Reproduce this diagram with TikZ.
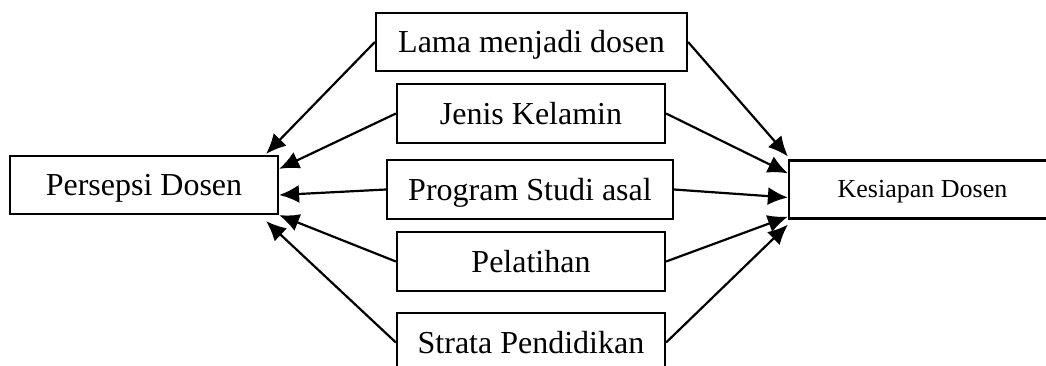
\documentclass[tikz,border=0pt]{standalone}
\usepackage{fontspec}
\setmainfont{Liberation Serif}
\usetikzlibrary{arrows.meta,calc}

\begin{document}
\begin{tikzpicture}[
    x=0.5pt, y=-0.5pt,
    box/.style={draw, line width=1.1pt, minimum height=29.5pt, inner sep=2pt, text height=14pt, text depth=3.5pt, align=center, font=\fontsize{16}{18}\selectfont},
    arr/.style={-{Latex[length=10pt,width=9pt]}, line width=1.1pt}
]
\clip (0,0) rectangle (1046,365);

\node[box, minimum width=134pt, minimum height=29pt] (persepsi) at (144,185) {Persepsi Dosen};
\node[box, minimum width=133.5pt, minimum height=29pt, text height=11pt, text depth=3pt, font=\fontsize{13}{15}\selectfont] (kesiapan) at (922.5,189.5) {Kesiapan Dosen};

\node[box, minimum width=155.5pt, minimum height=29pt] (lama) at (531.5,42) {Lama menjadi dosen};
\node[box, minimum width=134pt] (jenis) at (531,113.5) {Jenis Kelamin};
\node[box, minimum width=143pt] (prodi) at (530,189.5) {Program Studi asal};
\node[box, minimum width=134pt] (pelatihan) at (531,261.5) {Pelatihan};
\node[box, minimum width=134pt] (strata) at (531,342.5) {Strata Pendidikan};

% left side
\draw[arr] (lama.west) -- ($(persepsi.north east)+(-13,-1)$);
\draw[arr] (jenis.west) -- ($(persepsi.north east)+(0,14)$);
\draw[arr] (prodi.west) -- ($(persepsi.east)+(0,10)$);
\draw[arr] (pelatihan.west) -- (persepsi.south east);
\draw[arr] (strata.west) -- ($(persepsi.south east)+(-13,6)$);

% right side
\draw[arr] (lama.east) -- ($(kesiapan.north west)+(0,-3)$);
\draw[arr] (jenis.east) -- ($(kesiapan.north west)+(0,14)$);
\draw[arr] (prodi.east) -- ($(kesiapan.west)+(0,8)$);
\draw[arr] (pelatihan.east) -- ($(kesiapan.south west)+(0,-3)$);
\draw[arr] (strata.east) -- ($(kesiapan.south west)+(0,5)$);
\end{tikzpicture}
\end{document}
